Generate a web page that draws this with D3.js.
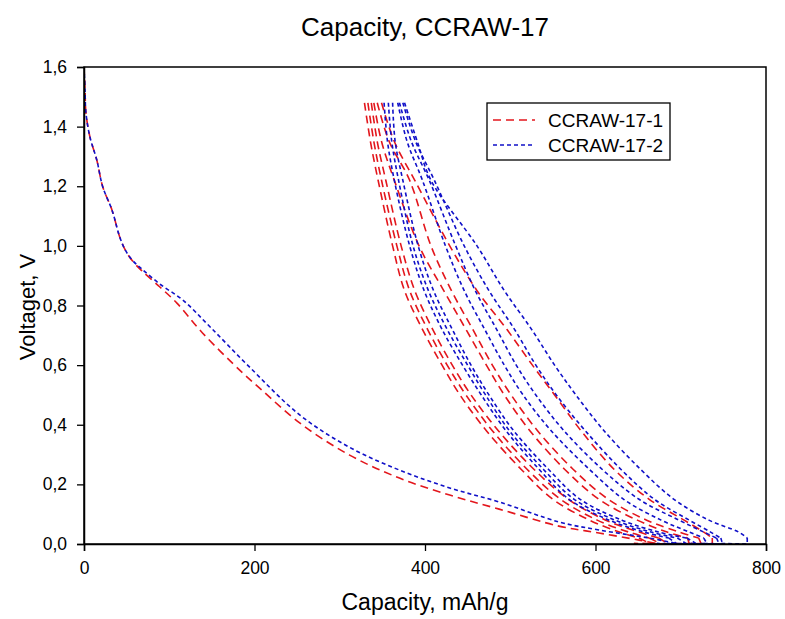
<!DOCTYPE html>
<html>
<head>
<meta charset="utf-8">
<script src="https://cdn.jsdelivr.net/npm/d3@7"></script>
<style>
  body { margin: 0; background: #fff; }
  text { font-family: "Liberation Sans", Arial, sans-serif; fill: #000; }
</style>
</head>
<body>
<svg id="chart" width="785" height="619"></svg>
<script>
// Axis ticks
const xTicks = [0, 200, 400, 600, 800];
const yTicks = [0, 0.2, 0.4, 0.6, 0.8, 1.0, 1.2, 1.4, 1.6];

// Series names
const seriesNames = ["CCRAW-17-1", "CCRAW-17-2"];

// First discharge, [capacity mAh/g, voltage V]
const firstRed = [[0,1.6],[1.2,1.523],[2.3,1.446],[7,1.365],[15,1.288],[22,1.198],[33,1.119],[42,1.029],
  [49,0.983],[57,0.949],[68,0.916],[89,0.862],[109,0.808],[139,0.708],[186,0.574],[206,0.523],[253,0.406],
  [311,0.299],[370,0.221],[429,0.164],[487,0.117],[557,0.060],[604,0.037],[651,0.013],[674,0.0]];
const firstBlue = [[0,1.6],[1.2,1.523],[2.3,1.446],[7,1.365],[15,1.288],[22,1.198],[33,1.119],[42,1.029],
  [49,0.983],[57,0.951],[68,0.922],[89,0.872],[116,0.818],[148,0.728],[194,0.594],[253,0.433],
  [311,0.325],[370,0.248],[429,0.188],[487,0.141],[557,0.074],[604,0.047],[663,0.020],[698,0.0]];

// Later cycles share one voltage grid; each array holds the capacity at those voltages
const cycleVolts = [1.48, 1.35, 1.22, 1.0, 0.85, 0.72, 0.6, 0.5, 0.38, 0.25, 0.15, 0.08, 0.04, 0.02, 0.0];
const cyclesRed = [
  [329, 336, 345, 362, 376, 397, 420, 441, 472, 513, 550, 593, 628, 651, 665],
  [333, 340, 349, 367, 382, 403, 426, 448, 479, 520, 559, 602, 639, 663, 677],
  [337, 344, 354, 372, 388, 409, 432, 454, 486, 528, 568, 612, 651, 674, 686],
  [340, 349, 364, 393, 422, 448, 472, 493, 523, 564, 604, 649, 684, 708, 710],
  [344, 358, 382, 407, 431, 456, 479, 501, 532, 574, 615, 660, 698, 721, 724],
  [349, 364, 388, 429, 461, 496, 526, 552, 583, 622, 663, 704, 727, 737, 737]
];
const cyclesBlue = [
  [352, 356, 364, 382, 399, 420, 444, 466, 495, 534, 569, 616, 657, 686, 696],
  [357, 361, 369, 386, 404, 426, 450, 471, 499, 539, 575, 623, 665, 696, 707],
  [362, 365, 374, 392, 410, 432, 454, 475, 504, 545, 582, 631, 674, 707, 719],
  [368, 379, 397, 424, 446, 470, 493, 515, 548, 593, 633, 677, 710, 727, 731],
  [370, 384, 405, 436, 459, 484, 507, 530, 563, 608, 651, 698, 727, 742, 745],
  [374, 389, 411, 446, 475, 505, 530, 554, 588, 630, 669, 710, 735, 747, 749],
  [376, 391, 407, 461, 493, 525, 552, 577, 610, 653, 692, 733, 768, 778, 778]
];
// Capacity reached along the 0 V floor after each cycle
const tailRed = [645, 655, 664, 688, 700, 712];
const tailBlue = [672, 684, 694, 706, 720, 726, 745];

const plot = { left: 84, right: 766, top: 67, bottom: 544 };
const red = "#e3161c", blue = "#1010c8";

const svg = d3.select("#chart");
const x = d3.scaleLinear().domain([0, 800]).range([plot.left, plot.right]);
const y = d3.scaleLinear().domain([0, 1.6]).range([plot.bottom, plot.top]);

svg.append("defs").append("clipPath").attr("id", "plotClip")
  .append("rect").attr("x", plot.left).attr("y", plot.top - 2)
  .attr("width", plot.right - plot.left).attr("height", plot.bottom - plot.top + 2);

const smooth = d3.line().x(d => x(d[0])).y(d => y(d[1])).curve(d3.curveCatmullRom);
const straight = d3.line().x(d => x(d[0])).y(d => y(d[1]));

const g = svg.append("g").attr("clip-path", "url(#plotClip)");

function drawSeries(first, cycles, tails, color, dash) {
  const style = sel => sel.attr("fill", "none").attr("stroke", color)
    .attr("stroke-width", 1.6).attr("stroke-dasharray", dash);
  g.append("path").datum(first).attr("d", smooth).call(style);
  cycles.forEach((caps, i) => {
    const pts = caps.map((c, k) => [c, cycleVolts[k]]);
    const body = pts.slice(0, pts.length - 1);
    const last = body[body.length - 1];
    const end = pts[pts.length - 1];
    g.append("path").datum(body).attr("d", smooth).call(style);
    g.append("path").datum([last, end, [tails[i], 0.002]]).attr("d", straight).call(style);
  });
}

drawSeries(firstRed, cyclesRed, tailRed, red, "8,5");
drawSeries(firstBlue, cyclesBlue, tailBlue, blue, "4,3");

// Frame
svg.append("rect").attr("x", plot.left).attr("y", plot.top)
  .attr("width", plot.right - plot.left).attr("height", plot.bottom - plot.top)
  .attr("fill", "none").attr("stroke", "#000").attr("stroke-width", 1.5);

const fmtY = d => d3.format(".1f")(d).replace(".", ",");

const xAxis = svg.append("g").attr("transform", `translate(0,${plot.bottom})`)
  .call(d3.axisBottom(x).tickValues(xTicks).tickSize(7).tickPadding(11).tickFormat(d3.format("d")));
const yAxis = svg.append("g").attr("transform", `translate(${plot.left},0)`)
  .call(d3.axisLeft(y).tickValues(yTicks).tickSize(7).tickPadding(10).tickFormat(fmtY));
[xAxis, yAxis].forEach(a => {
  a.select(".domain").attr("stroke", "#000").attr("stroke-width", 1.5);
  a.selectAll(".tick line").attr("stroke", "#000").attr("stroke-width", 1.3);
  a.selectAll(".tick text").attr("font-family", "Liberation Sans, Arial, sans-serif")
    .attr("font-size", 17.5).attr("fill", "#000");
});

// Titles
svg.append("text").attr("x", (plot.left + plot.right) / 2).attr("y", 36)
  .attr("text-anchor", "middle").attr("font-size", 26).text("Capacity, CCRAW-17");
svg.append("text").attr("x", (plot.left + plot.right) / 2).attr("y", 610)
  .attr("text-anchor", "middle").attr("font-size", 23).text("Capacity, mAh/g");
svg.append("text").attr("transform", `translate(35,307) rotate(-90)`)
  .attr("text-anchor", "middle").attr("font-size", 22).text("Voltaget, V");

// Legend
const leg = svg.append("g");
leg.append("rect").attr("x", 487).attr("y", 103).attr("width", 183).attr("height", 57)
  .attr("fill", "#fff").attr("stroke", "#000").attr("stroke-width", 1.3);
[[red, "8,5"], [blue, "4,3"]].forEach(([c, dash], i) => {
  const ly = 120 + i * 25;
  leg.append("line").attr("x1", 493).attr("x2", 535).attr("y1", ly).attr("y2", ly)
    .attr("stroke", c).attr("stroke-width", 1.6).attr("stroke-dasharray", dash);
  leg.append("text").attr("x", 548).attr("y", ly + 7).attr("font-size", 19).text(seriesNames[i]);
});
</script>
</body>
</html>
